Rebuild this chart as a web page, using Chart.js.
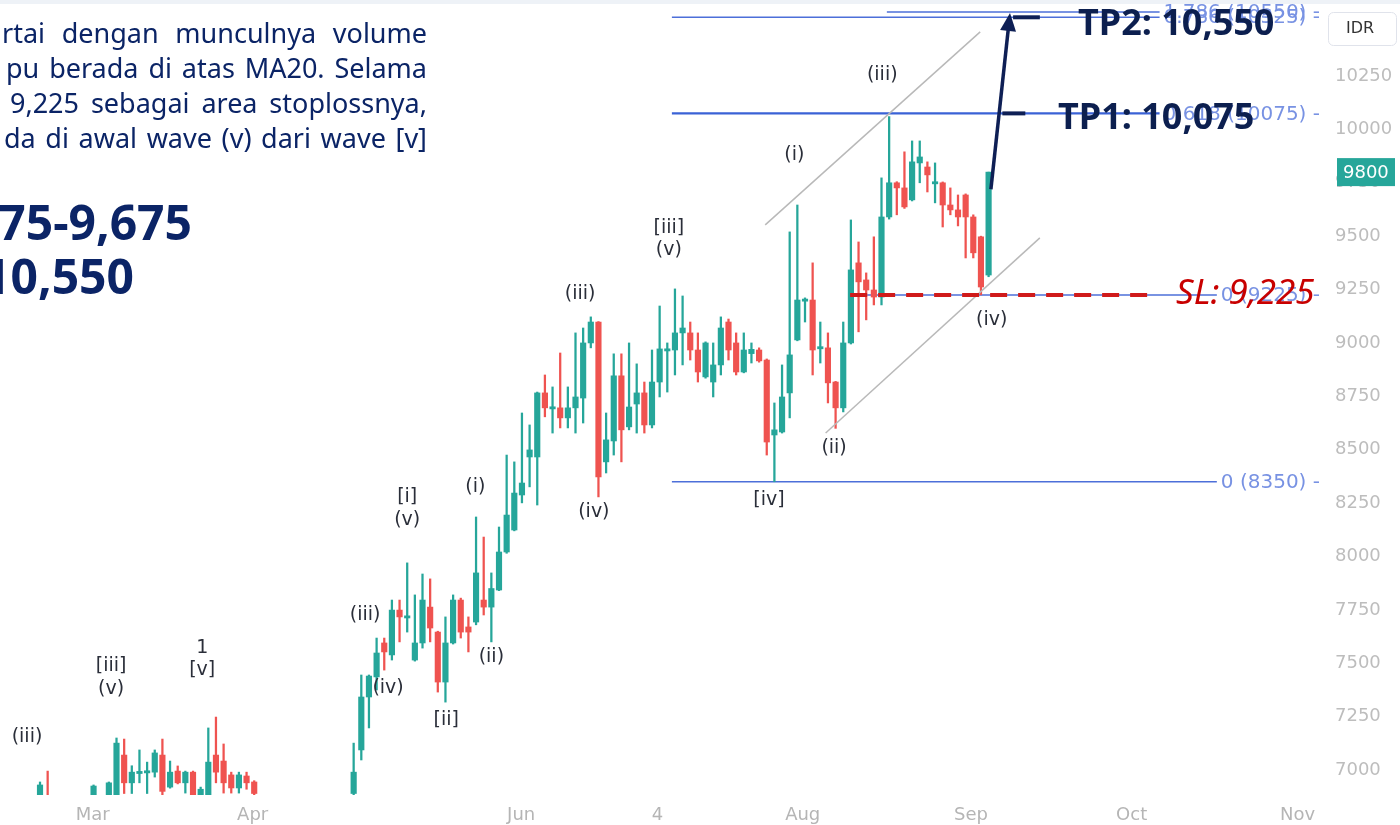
<!DOCTYPE html>
<html lang="en">
<head>
<meta charset="UTF-8">
<title>Elliott wave chart</title>
<script src="https://cdn.jsdelivr.net/npm/chart.js"></script>
<style>
  html, body { margin: 0; padding: 0; background: #fff; }
  canvas { display: block; }
</style>
</head>
<body>
<canvas id="myChart" width="1400" height="825"></canvas>
<script>
// daily candles, array position = bar number; null = bar sits below the visible price range
const opens = [6850, 6870, null, null, null, null, null, 6860, null, 6860,
  6850, 7070, 6940, 6985, 6988, 6990, 7070, 6920, 6995, 6940,
  6990, 6880, 6880, 7070, 7042, 6977, 6916, 6972, 6944, null,
  null, null, null, null, null, null, null, null, null, null,
  null, 6890, 7094, 7342, 7436, 7595, 7539, 7749, 7714, 7515,
  7595, 7763, 7646, 7412, 7595, 7796, 7670, 7693, 7796, 7763,
  7843, 8021, 8124, 8288, 8466, 8466, 8766, 8694, 8696, 8649,
  8696, 8742, 9000, 9098, 8443, 8541, 8846, 8607, 8714, 8766,
  8616, 8817, 8965, 8967, 9047, 9047, 8967, 8841, 8817, 8897,
  9098, 9000, 8864, 8950, 8967, 8920, 8569, 8583, 8766, 9014,
  9198, 9201, 8975, 8977, 8817, 8696, 9000, 9375, 9295, 9248,
  9215, 9590, 9750, 9726, 9670, 9843, 9824, 9748, 9750, 9646,
  9623, 9693, 9590, 9497, 9318];
const highs = [6944, 6995, null, null, null, null, null, 6930, null, 6944,
  7150, 7145, 7020, 7094, 7037, 7094, 7145, 7042, 7019, 6995,
  6995, 6920, 7197, 7248, 7122, 6990, 6990, 6990, 6950, null,
  null, null, null, null, null, null, null, null, null, null,
  null, 7126, 7445, 7445, 7618, 7618, 7796, 7796, 7970, 7820,
  7918, 7895, 7650, 7717, 7820, 7805, 7717, 8185, 8091, 7923,
  8138, 8475, 8443, 8672, 8616, 8770, 8850, 8794, 8953, 8794,
  9047, 9070, 9122, 9100, 8672, 8949, 8949, 9000, 8902, 8817,
  8967, 9173, 9000, 9253, 9220, 9098, 9047, 9005, 9000, 9122,
  9112, 9047, 9047, 9000, 8977, 8925, 8719, 8897, 9520, 9646,
  9211, 9375, 9098, 9047, 8820, 9098, 9576, 9473, 9328, 9497,
  9773, 10060, 9755, 9895, 9946, 9946, 9848, 9843, 9754, 9726,
  9693, 9698, 9600, 9500, 9800];
const lows = [6800, 6800, null, null, null, null, null, 6820, null, 6820,
  6830, 6890, 6890, 6940, 6890, 6967, 6880, 6915, 6935, 6892,
  6870, 6870, 6870, 6940, 6892, 6892, 6892, 6910, 6880, null,
  null, null, null, null, null, null, null, null, null, null,
  null, 6870, 7047, 7197, 7375, 7468, 7515, 7600, 7646, 7510,
  7571, 7600, 7365, 7318, 7590, 7618, 7553, 7680, 7726, 7600,
  7840, 8015, 8120, 8251, 8326, 8241, 8654, 8578, 8602, 8602,
  8578, 8625, 8977, 8279, 8391, 8475, 8443, 8593, 8578, 8578,
  8602, 8747, 8770, 8850, 8897, 8920, 8817, 8835, 8747, 8850,
  8920, 8850, 8860, 8906, 8910, 8475, 8350, 8578, 8649, 9010,
  9098, 8850, 8906, 8719, 8600, 8677, 8995, 9052, 9108, 9178,
  9178, 9580, 9600, 9630, 9665, 9750, 9707, 9656, 9543, 9600,
  9548, 9398, 9398, 9225, 9310];
const closes = [6930, 6840, null, null, null, null, null, 6925, null, 6940,
  7126, 6940, 6990, 6992, 6995, 7080, 6900, 6990, 6940, 6990,
  6880, 6910, 7037, 6990, 6940, 6916, 6977, 6940, 6890, null,
  null, null, null, null, null, null, null, null, null, null,
  null, 6990, 7342, 7440, 7548, 7553, 7749, 7717, 7720, 7595,
  7796, 7665, 7412, 7595, 7796, 7646, 7646, 7923, 7763, 7850,
  8021, 8194, 8297, 8344, 8499, 8766, 8696, 8698, 8649, 8696,
  8747, 9000, 9098, 8372, 8546, 8846, 8593, 8700, 8766, 8616,
  8817, 8972, 8970, 9047, 9070, 8967, 8864, 9000, 8897, 9070,
  8967, 8864, 8967, 8970, 8916, 8536, 8593, 8747, 8944, 9201,
  9203, 8967, 8980, 8813, 8696, 9000, 9342, 9286, 9248, 9215,
  9590, 9750, 9726, 9637, 9848, 9871, 9787, 9752, 9646, 9623,
  9590, 9590, 9422, 9262, 9800];

const priceTicks = [7000, 7250, 7500, 7750, 8000, 8250, 8500, 8750, 9000, 9250, 9500, 9750, 10000, 10250];
const monthTicks = [6.9, 27.8, 62.9, 80.7, 99.7, 121.7, 142.7, 164.4];
const monthLabels = ['Mar', 'Apr', 'Jun', '4', 'Aug', 'Sep', 'Oct', 'Nov'];

// fibonacci levels drawn on the chart
const fibValues = [10550, 10525, 10075, 9225, 8350];
const fibLabels = ['1.786 (10550)', '0.786 (10525)', '0.618 (10075)', '0 (9225)', '0 (8350)'];
const fibFrom = [110.7, 82.6, 82.6, 105.9, 82.6];

// wave counts: text, bar, price
const waveText = ['(iii)', '[iii]', '(v)', '1', '[v]', '(iii)', '(iv)', '[ii]', '[i]', '(v)',
  '(i)', '(ii)', '(iii)', '(iv)', '[iii]', '(v)', '[iv]', '(i)', '(ii)', '(iii)', '(iv)'];
const waveBar = [-1.7, 9.3, 9.3, 21.2, 21.2, 42.5, 45.5, 53.1, 48.0, 48.0,
  56.9, 59.0, 70.6, 72.4, 82.2, 82.2, 95.3, 98.6, 103.8, 110.1, 124.4];
const wavePrice = [7155, 7487, 7379, 7571, 7468, 7726, 7384, 7234, 8279, 8171,
  8326, 7529, 9230, 8208, 9539, 9436, 8265, 9881, 8508, 10255, 9108];

const upColor = '#26a69a';
const downColor = '#ef5350';
const navy = '#0b2466';

const bars = opens.map((o, i) => i).filter(i => opens[i] !== null);
const candleColors = bars.map(i => closes[i] >= opens[i] ? upColor : downColor);
const wickData = bars.map(i => ({ x: i, y: [lows[i], highs[i]] }));
const bodyData = bars.map(i => {
    let a = Math.min(opens[i], closes[i]);
    let b = Math.max(opens[i], closes[i]);
    if (b - a < 10) { const m = (a + b) / 2; a = m - 5; b = m + 5; }
    return { x: i, y: [a, b] };
});

function justify(ctx, words, left, right, base) {
    const widths = words.map(w => ctx.measureText(w).width);
    const total = widths.reduce((s, w) => s + w, 0);
    const gap = (right - left - total) / (words.length - 1);
    let px = left;
    words.forEach((w, k) => { ctx.fillText(w, px, base); px += widths[k] + gap; });
}

const overlay = {
    id: 'overlay',
    beforeDatasetsDraw(chart) {
        const { ctx, chartArea, scales: { x, y } } = chart;
        ctx.save();
        ctx.font = '20px "DejaVu Sans"';
        ctx.textAlign = 'right';
        ctx.textBaseline = 'middle';
        fibValues.forEach((v, k) => {
            const py = y.getPixelForValue(v);
            const text = fibLabels[k] + ' -';
            const right = chartArea.right + 2;
            const w = ctx.measureText(text).width;
            ctx.strokeStyle = v === 10075 ? '#3a62d6' : '#4d6fd9';
            ctx.lineWidth = v === 10075 ? 2.2 : 1.5;
            ctx.beginPath();
            ctx.moveTo(x.getPixelForValue(fibFrom[k]), py);
            ctx.lineTo(right - w - 4, py);
            ctx.stroke();
            ctx.fillStyle = '#7892e3';
            ctx.fillText(text, right, py + 1);
        });
        ctx.restore();
    },
    afterDatasetsDraw(chart) {
        const { ctx, scales: { x, y } } = chart;
        const P = (b, v) => [x.getPixelForValue(b), y.getPixelForValue(v)];
        ctx.save();
        // channel
        ctx.strokeStyle = '#b9b9b9';
        ctx.lineWidth = 1.5;
        [[[94.8, 9553], [122.9, 10457]], [[102.7, 8578], [130.7, 9492]]].forEach(seg => {
            const a = P(...seg[0]), b = P(...seg[1]);
            ctx.beginPath(); ctx.moveTo(a[0], a[1]); ctx.lineTo(b[0], b[1]); ctx.stroke();
        });
        // stop loss
        ctx.strokeStyle = '#d01a1a';
        ctx.lineWidth = 4;
        ctx.setLineDash([17, 11]);
        let a = P(105.9, 9225), b = P(145.1, 9225);
        ctx.beginPath(); ctx.moveTo(a[0], a[1]); ctx.lineTo(b[0], b[1]); ctx.stroke();
        ctx.setLineDash([]);
        // target marks and arrow
        ctx.strokeStyle = '#0e1f55';
        ctx.fillStyle = '#0e1f55';
        ctx.lineWidth = 4;
        [[125.8, 128.8, 10075], [127.2, 130.7, 10525]].forEach(t => {
            const p = P(t[0], t[2]), q = P(t[1], t[2]);
            ctx.beginPath(); ctx.moveTo(p[0], p[1]); ctx.lineTo(q[0], q[1]); ctx.stroke();
        });
        a = P(124.3, 9720); b = P(126.8, 10545);
        const ang = Math.atan2(b[1] - a[1], b[0] - a[0]);
        ctx.lineWidth = 3.5;
        ctx.beginPath(); ctx.moveTo(a[0], a[1]);
        ctx.lineTo(b[0] - 12 * Math.cos(ang), b[1] - 12 * Math.sin(ang)); ctx.stroke();
        ctx.beginPath();
        ctx.moveTo(b[0], b[1]);
        ctx.lineTo(b[0] - 18 * Math.cos(ang) + 8 * Math.sin(ang), b[1] - 18 * Math.sin(ang) - 8 * Math.cos(ang));
        ctx.lineTo(b[0] - 18 * Math.cos(ang) - 8 * Math.sin(ang), b[1] - 18 * Math.sin(ang) + 8 * Math.cos(ang));
        ctx.closePath(); ctx.fill();
        // wave counts
        ctx.fillStyle = '#2a2e39';
        ctx.font = '19px "DejaVu Sans"';
        ctx.textAlign = 'center';
        ctx.textBaseline = 'middle';
        waveText.forEach((t, k) => {
            const p = P(waveBar[k], wavePrice[k]);
            ctx.fillText(t, p[0], p[1]);
        });
        ctx.restore();
    },
    afterDraw(chart) {
        const { ctx, chartArea, scales: { y } } = chart;
        ctx.save();
        ctx.fillStyle = '#eef2f7';
        ctx.fillRect(0, 0, 1400, 4);

        // target / stop texts
        ctx.fillStyle = '#0c1f4f';
        ctx.font = 'bold 36px "Noto Sans"';
        ctx.textAlign = 'left';
        ctx.textBaseline = 'alphabetic';
        ctx.fillText('TP2: 10,550', 1078, y.getPixelForValue(10525) + 18);
        ctx.fillText('TP1: 10,075', 1058, y.getPixelForValue(10075) + 16);
        ctx.fillStyle = '#c80000';
        ctx.font = 'italic 35px "Noto Sans"';
        ctx.fillText('SL: 9,225', 1176, y.getPixelForValue(9225) + 9);

        // note text
        ctx.fillStyle = navy;
        ctx.font = '27px "Noto Sans"';
        justify(ctx, ['rtai', 'dengan', 'munculnya', 'volume'], 2, 427, 43);
        justify(ctx, ['pu', 'berada', 'di', 'atas', 'MA20.', 'Selama'], 6, 427, 78);
        justify(ctx, ['9,225', 'sebagai', 'area', 'stoplossnya,'], 10, 427, 113);
        justify(ctx, ['da', 'di', 'awal', 'wave', '(v)', 'dari', 'wave', '[v]'], 4, 427, 148);
        ctx.font = 'bold 48px "Noto Sans"';
        ctx.textAlign = 'right';
        ctx.fillText('75-9,675', 192, 240);
        ctx.fillText('10,550', 134, 294);

        // currency box
        ctx.strokeStyle = '#e0e3eb';
        ctx.lineWidth = 1;
        ctx.fillStyle = '#fff';
        ctx.beginPath(); ctx.roundRect(1328.5, 12.5, 68, 33, 5); ctx.fill(); ctx.stroke();
        ctx.fillStyle = '#333';
        ctx.font = '16px "DejaVu Sans"';
        ctx.textAlign = 'center';
        ctx.textBaseline = 'middle';
        ctx.fillText('IDR', 1360, 29);

        // last price box
        const last = closes[closes.length - 1];
        const py = y.getPixelForValue(last);
        ctx.fillStyle = upColor;
        ctx.fillRect(chartArea.right + 19, py - 14, 58, 28);
        ctx.fillStyle = '#fff';
        ctx.font = '18px "DejaVu Sans"';
        ctx.textAlign = 'left';
        ctx.fillText(String(last), chartArea.right + 25, py + 1);
        ctx.restore();
    }
};

new Chart(document.getElementById('myChart'), {
    type: 'bar',
    data: {
        datasets: [
            { data: wickData, backgroundColor: candleColors, barThickness: 1.6, grouped: false },
            { data: bodyData, backgroundColor: candleColors, barThickness: 5.5, grouped: false }
        ]
    },
    options: {
        responsive: false,
        animation: false,
        devicePixelRatio: 1,
        layout: { padding: 0 },
        plugins: { legend: { display: false }, tooltip: { enabled: false } },
        scales: {
            x: {
                type: 'linear',
                min: -5.23,
                max: 167.06,
                offset: false,
                grid: { display: false, drawTicks: false },
                border: { display: false },
                afterBuildTicks: s => { s.ticks = monthTicks.map(v => ({ value: v })); },
                afterFit: s => { s.height = 30; s.paddingLeft = 0; s.paddingRight = 0; },
                ticks: {
                    autoSkip: false,
                    maxRotation: 0,
                    padding: 10,
                    color: '#b5b5b5',
                    font: { family: 'DejaVu Sans', size: 18 },
                    callback: v => monthLabels[monthTicks.indexOf(v)]
                }
            },
            y: {
                position: 'right',
                min: 6883,
                max: 10606,
                grid: { display: false, drawTicks: false },
                border: { display: false },
                afterBuildTicks: s => { s.ticks = priceTicks.map(v => ({ value: v })); },
                afterFit: s => { s.width = 82; s.paddingTop = 0; s.paddingBottom = 0; },
                ticks: {
                    padding: 17,
                    color: '#bdbdbd',
                    font: { family: 'DejaVu Sans', size: 18 },
                    callback: v => String(v)
                }
            }
        }
    },
    plugins: [overlay]
});
</script>
</body>
</html>
